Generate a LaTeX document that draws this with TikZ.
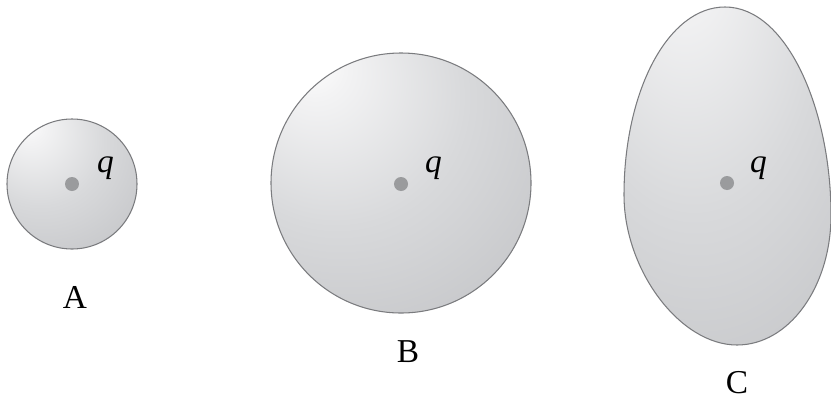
\documentclass[tikz,border=0pt]{standalone}
\usepackage{fontspec}
\setmainfont{Liberation Serif}
\definecolor{rimgray}{HTML}{7A7B7E}
\definecolor{chargegray}{HTML}{9A9B9D}
\definecolor{shadeA}{HTML}{F3F3F4}
\definecolor{shadeB}{HTML}{D8D9DB}
\definecolor{shadeC}{HTML}{BEBFC2}
\definecolor{shadeD}{HTML}{9C9DA1}
\pgfdeclareradialshading{ballshade}{\pgfpoint{-18bp}{24bp}}{color(0bp)=(white); color(6bp)=(shadeA); color(25bp)=(shadeB); color(52bp)=(shadeC); color(80bp)=(shadeD)}
\pgfdeclareradialshading{eggshade}{\pgfpoint{-12bp}{36bp}}{color(0bp)=(white); color(7bp)=(shadeA); color(30bp)=(shadeB); color(60bp)=(shadeC); color(90bp)=(shadeD)}

\begin{document}
\begin{tikzpicture}[x=0.02cm, y=0.02cm, every node/.style={font=\fontsize{19}{22}\selectfont},
  surface/.style={draw=rimgray, line width=0.6pt, shade, shading=ballshade},
  charge/.style={circle, fill=chargegray, inner sep=0pt, minimum size=0.28cm},
  qlabel/.style={anchor=base west, font=\fontsize{19}{22}\selectfont\itshape}]
  \useasboundingbox (0,0) rectangle (831,407);

  \path[surface] (72,223) circle (65);
  \path[surface] (401,224) circle (130);
  \path[surface, shading=eggshade] (725,400) .. controls (668,400) and (624,316) .. (624,212)
    .. controls (624,137) and (680,62) .. (737,62)
    .. controls (789,62) and (831,120) .. (831,192)
    .. controls (831,297) and (787,400) .. (725,400) -- cycle;

  \node[charge] (qa) at (72,223) {};
  \node[charge] (qb) at (401,223) {};
  \node[charge] (qc) at (727,224) {};

  \node[qlabel] (qa text) at (91,235) {q};
  \node[qlabel] (qb text) at (419,235) {q};
  \node[qlabel] (qc text) at (744,235) {q};

  \node (A) at (75,110) {A};
  \node (B) at (408,55) {B};
  \node (C) at (737,24) {C};
\end{tikzpicture}
\end{document}
